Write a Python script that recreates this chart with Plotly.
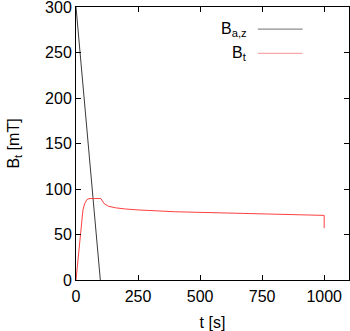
import plotly.graph_objects as go

# applied field ramp B_a,z
t_baz = [0, 98]
baz = [300, 0]

# trapped field B_t
t_bt = [0, 4, 11, 16, 21, 28, 35, 44, 52, 57, 100, 106, 113, 131, 160, 200, 250, 400, 600, 800, 1000, 1000]
bt = [0, 11, 33, 50, 66, 77, 84, 88.4, 89.3, 89.5, 89.5, 87, 84, 81, 79.3, 78, 77, 75, 73.5, 72.3, 71, 57]

x_ticks = [0, 250, 500, 750, 1000]
y_ticks = [0, 50, 100, 150, 200, 250, 300]

FONT = "Liberation Sans"
FS = 16

fig = go.Figure()
fig.add_trace(go.Scatter(x=t_baz, y=baz, mode="lines", name="B<sub>a,z</sub>",
                         line=dict(color="#3a3a3a", width=1), showlegend=False))
fig.add_trace(go.Scatter(x=t_bt, y=bt, mode="lines", name="B<sub>t</sub>",
                         line=dict(color="#ff4040", width=1), showlegend=False))

# gnuplot-style key: text right-aligned, sample line to the right
key = [("B<sub>a,z</sub>", "#8c8c8c", 0.919), ("B<sub>t</sub>", "#f7a8a8", 0.830)]
for label, color, ypos in key:
    fig.add_annotation(text=label, xref="paper", yref="paper", x=0.634, y=ypos,
                       xanchor="right", yanchor="middle", showarrow=False,
                       font=dict(family=FONT, size=FS, color="black"))
    fig.add_shape(type="line", xref="paper", yref="paper", x0=0.666, x1=0.83,
                  y0=ypos, y1=ypos, line=dict(color=color, width=1.3))

axis_common = dict(showline=True, linecolor="black", linewidth=1, mirror="allticks",
                   ticks="inside", ticklen=5, tickcolor="black", showgrid=False,
                   zeroline=False, automargin=False, ticklabeloverflow="allow",
                   tickfont=dict(family=FONT, size=FS, color="black"))
fig.update_xaxes(range=[0, 1100], tickvals=x_ticks, ticklabelstandoff=2,
                 title=dict(text="t [s]", font=dict(family=FONT, size=FS, color="black"), standoff=12),
                 **axis_common)
fig.update_yaxes(range=[0, 300], tickvals=y_ticks,
                 title=dict(text="B<sub>t</sub> [mT]", font=dict(family=FONT, size=FS, color="black"), standoff=21),
                 **axis_common)
fig.update_layout(width=350, height=331, margin=dict(l=76, r=1, t=7, b=51),
                  plot_bgcolor="white", paper_bgcolor="white")
fig.write_html("out.html", config={"displayModeBar": False},
               post_script="document.body.style.margin='0';")
